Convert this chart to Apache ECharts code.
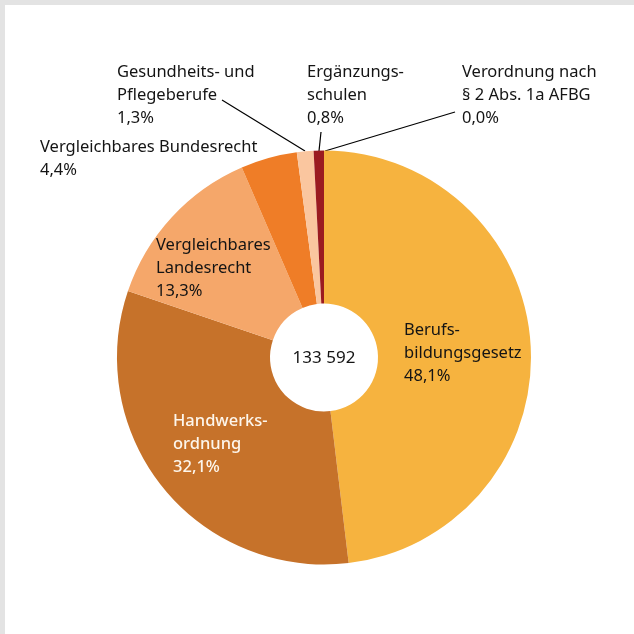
<!DOCTYPE html>
<html><head><meta charset="utf-8">
<script src="https://cdn.jsdelivr.net/npm/echarts@6/dist/echarts.min.js"></script>
<style>
html,body{margin:0;padding:0;background:#fff;}
#c{position:absolute;left:0;top:0;width:634px;height:634px;}
.bt{position:absolute;left:0;top:0;width:634px;height:5px;background:#e3e3e3;}
.bl{position:absolute;left:0;top:0;width:5px;height:634px;background:#e3e3e3;}
</style></head>
<body>
<div id="c"></div><div class="bt"></div><div class="bl"></div>
<script>
const categories = [
  'Berufs-\nbildungsgesetz',
  'Handwerks-\nordnung',
  'Vergleichbares\nLandesrecht',
  'Vergleichbares Bundesrecht',
  'Gesundheits- und\nPflegeberufe',
  'Ergänzungs-\nschulen',
  'Verordnung nach\n§ 2 Abs. 1a AFBG'
];
const shares = [48.1, 32.1, 13.3, 4.4, 1.3, 0.8, 0.0];
const total = '133 592';
const colors = ['#f6b33f', '#c6722a', '#f5a76a', '#ef7d27', '#fac69f', '#9b1b20', '#9b1b20'];

// label layout (top-left of each label block) and leader lines
const labelPos = [
  {x: 404, y: 319},
  {x: 173, y: 410},
  {x: 156, y: 234},
  {x: 40, y: 136},
  {x: 117, y: 61},
  {x: 307, y: 61},
  {x: 462, y: 61}
];
const leaders = {
  4: [[222, 100], [305, 151]],
  5: [[321, 132], [319, 151]],
  6: [[455, 112], [325, 151]]
};

const chart = echarts.init(document.getElementById('c'), null, {renderer: 'canvas'});
const data = categories.map((n, i) => ({
  name: n,
  value: shares[i],
  itemStyle: {color: colors[i]},
  label: {color: i === 1 ? '#fdf6ec' : '#141414', fontWeight: i === 1 ? 500 : 'normal'},
  labelLine: {show: !!leaders[i]}
}));
chart.setOption({
  animation: false,
  series: [{
    type: 'pie',
    center: [324, 357.5],
    radius: [54, 207],
    startAngle: 90,
    clockwise: true,
    avoidLabelOverlap: false,
    stillShowZeroSum: true,
    data: data,
    label: {
      show: true,
      position: 'outside',
      fontFamily: 'Noto Sans',
      fontSize: 16.5,
      lineHeight: 23,
      align: 'left',
      formatter: p => p.name + '\n' + p.value.toFixed(1).replace('.', ',') + '%'
    },
    labelLine: {lineStyle: {color: '#000', width: 1.2}},
    labelLayout: p => {
      const i = p.dataIndex;
      const o = {x: labelPos[i].x, y: labelPos[i].y, align: 'left', verticalAlign: 'top'};
      if (leaders[i]) o.labelLinePoints = [leaders[i][0], leaders[i][0], leaders[i][1]];
      return o;
    },
    emphasis: {disabled: true}
  }],
  graphic: [{
    type: 'text', x: 324, y: 358,
    style: {text: total, align: 'center', verticalAlign: 'middle', fontFamily: 'Noto Sans', fontSize: 17, fill: '#141414'}
  }]
});
</script>
</body></html>
